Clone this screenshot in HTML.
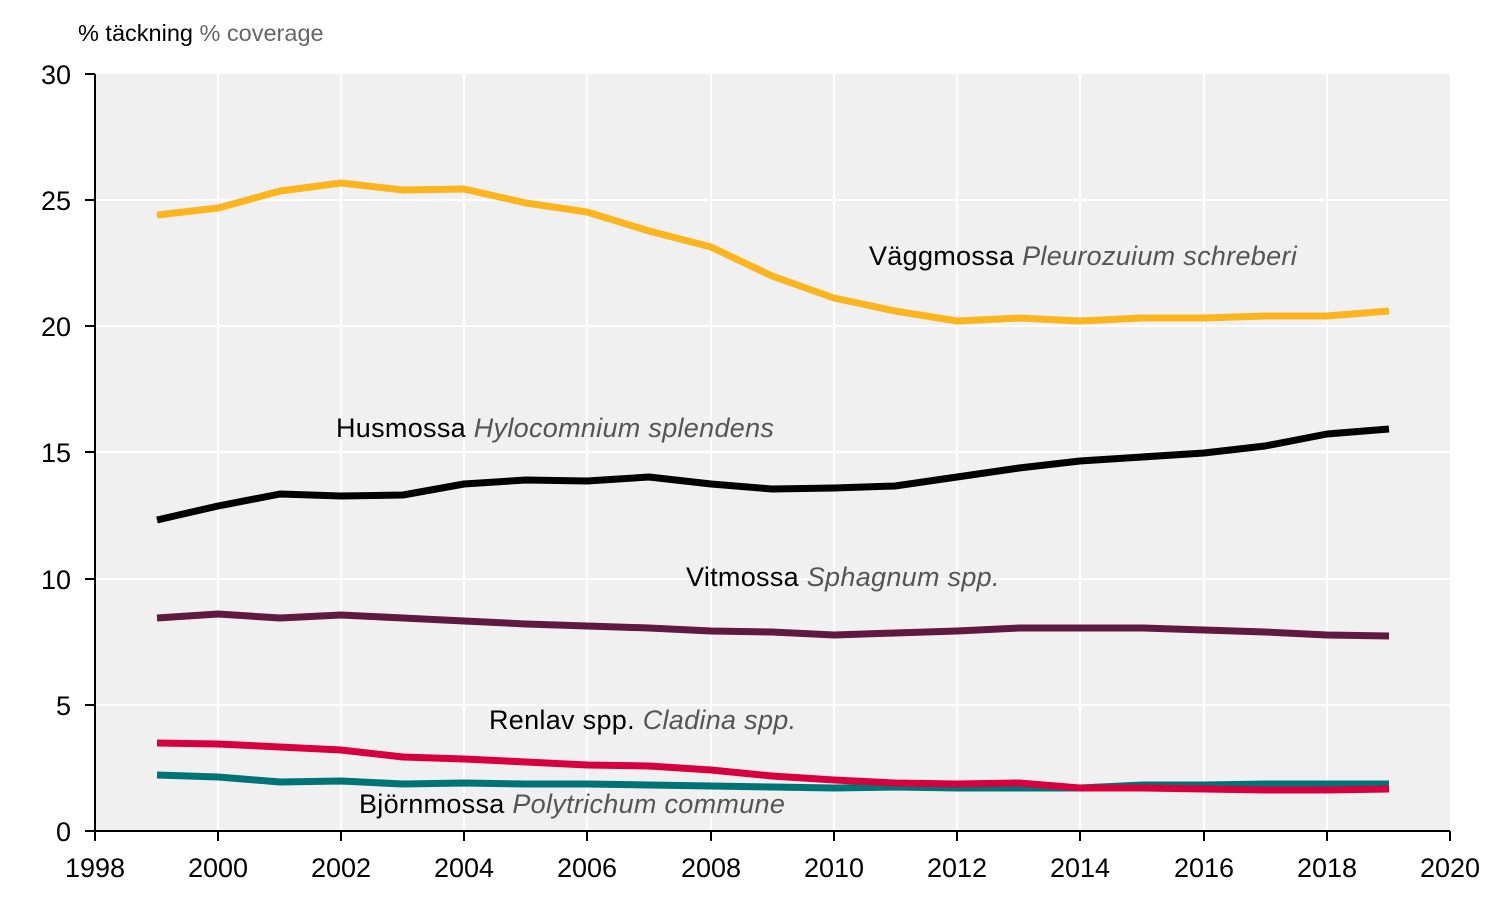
<!DOCTYPE html>
<html><head><meta charset="utf-8"><style>body{margin:0;background:#fff}svg{display:block}text{font-family:"Liberation Sans",sans-serif}</style></head><body>
<svg width="1500" height="914" viewBox="0 0 1500 914">
<rect x="95" y="74" width="1355" height="757" fill="#f0f0f0"/>
<g stroke="#fff" stroke-width="2">
<line x1="95" y1="200" x2="1450" y2="200"/><line x1="95" y1="326" x2="1450" y2="326"/><line x1="95" y1="452" x2="1450" y2="452"/><line x1="95" y1="579" x2="1450" y2="579"/><line x1="95" y1="705" x2="1450" y2="705"/>
<line x1="218" y1="74" x2="218" y2="831"/><line x1="341" y1="74" x2="341" y2="831"/><line x1="464" y1="74" x2="464" y2="831"/><line x1="587" y1="74" x2="587" y2="831"/><line x1="711" y1="74" x2="711" y2="831"/><line x1="834" y1="74" x2="834" y2="831"/><line x1="957" y1="74" x2="957" y2="831"/><line x1="1080" y1="74" x2="1080" y2="831"/><line x1="1204" y1="74" x2="1204" y2="831"/><line x1="1327" y1="74" x2="1327" y2="831"/>
</g>
<g stroke="#000" stroke-width="2" fill="none">
<line x1="95" y1="74" x2="95" y2="831"/><line x1="95" y1="831" x2="1450" y2="831"/>
<path d="M85 74H95M85 200H95M85 326H95M85 452H95M85 579H95M85 705H95M85 831H95"/>
<path d="M95 831V841M218 831V841M341 831V841M464 831V841M587 831V841M711 831V841M834 831V841M957 831V841M1080 831V841M1204 831V841M1327 831V841M1450 831V841"/>
</g>
<g font-size="27" text-anchor="end" fill="#000">
<text x="71" y="84">30</text><text x="71" y="210">25</text><text x="71" y="336">20</text><text x="71" y="462">15</text><text x="71" y="589">10</text><text x="71" y="715">5</text><text x="71" y="841">0</text>
</g>
<g font-size="27" text-anchor="middle" fill="#000">
<text x="95" y="877">1998</text><text x="218" y="877">2000</text><text x="341" y="877">2002</text><text x="464" y="877">2004</text><text x="587" y="877">2006</text><text x="711" y="877">2008</text><text x="834" y="877">2010</text><text x="957" y="877">2012</text><text x="1080" y="877">2014</text><text x="1204" y="877">2016</text><text x="1327" y="877">2018</text><text x="1450" y="877">2020</text>
</g>
<text x="78" y="41" font-size="23.5">% täckning <tspan fill="#666">% coverage</tspan></text>
<g fill="none" stroke-width="7" stroke-linejoin="round">
<polyline stroke="#fbb61f" points="157,215 218,208 280,191 341,183 403,190 464,189 526,203 587,212 649,231 711,247 772,276 834,298 895,311 957,321 1019,318 1080,321 1142,318 1204,318 1265,316 1327,316 1389,311"/>
<polyline stroke="#000" points="157,520 218,506 280,494 341,496 403,495 464,484 526,480 587,481 649,477 711,484 772,489 834,488 895,486 957,477 1019,468 1080,461 1142,457 1204,453 1265,446 1327,434 1389,429"/>
<polyline stroke="#60193f" points="157,618 218,614 280,618 341,615 403,618 464,621 526,624 587,626 649,628 711,631 772,632 834,635 895,633 957,631 1019,628 1080,628 1142,628 1204,630 1265,632 1327,635 1389,636"/>
<polyline stroke="#007377" points="157,775 218,777 280,782 341,781 403,784 464,783 526,784 587,784 649,785 711,786 772,787 834,788 895,787 957,788 1019,788 1080,788 1142,785 1204,785 1265,784 1327,784 1389,784"/>
<polyline stroke="#d6003f" points="157,743 218,744 280,747 341,750 403,757 464,759 526,762 587,765 649,766 711,770 772,776 834,780 895,783 957,784 1019,783 1080,788 1142,788 1204,789 1265,790 1327,790 1389,789"/>
</g>
<g font-size="27" fill="#000" letter-spacing="0.3">
<text x="869" y="265">Väggmossa <tspan font-style="italic" fill="#555">Pleurozuium schreberi</tspan></text>
<text x="336" y="437">Husmossa <tspan font-style="italic" fill="#555">Hylocomnium splendens</tspan></text>
<text x="686" y="586">Vitmossa <tspan font-style="italic" fill="#555">Sphagnum spp.</tspan></text>
<text x="489" y="729">Renlav spp. <tspan font-style="italic" fill="#555">Cladina spp.</tspan></text>
<text x="359" y="813">Björnmossa <tspan font-style="italic" fill="#555">Polytrichum commune</tspan></text>
</g>
</svg>
</body></html>
